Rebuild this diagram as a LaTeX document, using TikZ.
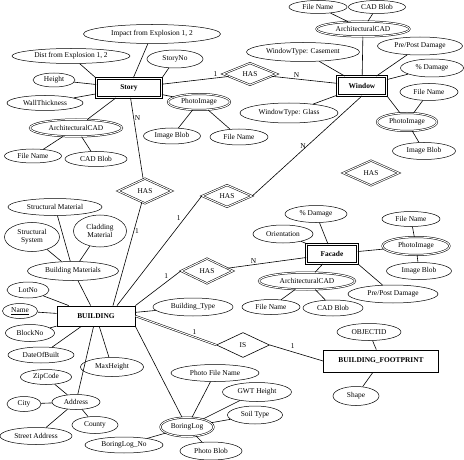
\documentclass[tikz,border=0pt]{standalone}
\usepackage{fontspec}
\setmainfont{Liberation Serif}
\usetikzlibrary{shapes.geometric}
\tikzset{
  entity/.style={
    rectangle, draw=black, line width=0.8pt, inner sep=0pt,
    font=\fontsize{7.4}{8}\selectfont\bfseries
  },
  wentity/.style={entity, double, double distance=1.4pt},
  attr/.style={
    ellipse, draw=black, line width=0.5pt, inner sep=0pt,
    align=center, font=\fontsize{7.4}{7.8}\selectfont
  },
  mattr/.style={attr, double, double distance=1pt},
  rel/.style={
    diamond, draw=black, line width=0.5pt, aspect=2, inner sep=0pt,
    double, double distance=1pt,
    font=\fontsize{7.4}{8}\selectfont
  },
  isrel/.style={rel, double=none, line width=0.6pt},
  sz/.style 2 args={minimum width=#1pt, minimum height=#2pt},
  ln/.style  = {line width=0.6pt},
  dln/.style = {line width=0.5pt, double, double distance=1pt},
  lbl/.style = {font=\fontsize{7.4}{8}\selectfont, inner sep=1pt},
}

\begin{document}
\begin{tikzpicture}[x=1pt, y=-1pt]
\useasboundingbox (0,0) rectangle (464,460);

%% ── Story and its attributes ───────────────────────────────────────────────
\node[wentity, sz={65}{19}]  (story)    at (129, 88) {Story};
\node[attr, sz={137}{19}]    (impact)   at (152, 34) {Impact from Explosion 1, 2};
\node[attr, sz={118}{15}]    (dist)     at ( 71, 56) {Dist from Explosion 1, 2};
\node[attr, sz={56}{18}]     (storyno)  at (175, 59) {StoryNo};
\node[attr, sz={42}{14}]     (height)   at ( 54, 80) {Height};
\node[attr, sz={76}{15}]     (wall)     at ( 45,103) {WallThickness};
\node[mattr, sz={92}{17}]    (scad)     at ( 76,128) {ArchitecturalCAD};
\node[attr, sz={57}{14}]     (scadfile) at ( 33,156) {File Name};
\node[attr, sz={62}{15}]     (scadblob) at ( 96,159) {CAD Blob};
\node[mattr, sz={62}{16}]    (sphoto)   at (199,102) {PhotoImage};
\node[attr, sz={57}{16}]     (sphblob)  at (172,136) {Image Blob};
\node[attr, sz={58}{16}]     (sphfile)  at (239,137) {File Name};

%% ── Window and its attributes ──────────────────────────────────────────────
\node[wentity, sz={49}{19}]  (window)   at (362, 86) {Window};
\node[mattr, sz={93}{15}]    (wcad)     at (363, 29) {ArchitecturalCAD};
\node[attr, sz={58}{13}]     (wcadfile) at (318,  7) {File Name};
\node[attr, sz={57}{13}]     (wcadblob) at (377,  7) {CAD Blob};
\node[attr, sz={113}{19}]    (wcase)    at (303, 52) {WindowType: Casement};
\node[attr, sz={98}{20}]     (wglass)   at (289,113) {WindowType: Glass};
\node[attr, sz={85}{18}]     (wprepost) at (420, 46) {Pre/Post Damage};
\node[attr, sz={63}{18}]     (wdamage)  at (432, 68) {\% Damage};
\node[mattr, sz={60}{18}]    (wphoto)   at (407,122) {PhotoImage};
\node[attr, sz={58}{17}]     (wphfile)  at (429, 92) {File Name};
\node[attr, sz={63}{17}]     (wphblob)  at (424,151) {Image Blob};

%% ── Relationships ──────────────────────────────────────────────────────────
\node[rel, sz={54}{22}]      (hasw)     at (250, 74) {HAS};
\node[rel, sz={54}{25}]      (hass)     at (145,191) {HAS};
\node[rel, sz={50}{22}]      (hasb)     at (227,196) {HAS};
\node[rel, sz={52}{25}]      (hasf)     at (207,271) {HAS};
\node[rel, sz={56}{25}]      (hasx)     at (371,173) {HAS};
\node[isrel, sz={53}{25}]    (isr)      at (243,345) {IS};

%% ── Facade and its attributes ──────────────────────────────────────────────
\node[wentity, sz={51}{19}]  (facade)   at (332,254) {Facade};
\node[attr, sz={62}{17}]     (fdamage)  at (316,214) {\% Damage};
\node[attr, sz={60}{18}]     (forient)  at (283,234) {Orientation};
\node[mattr, sz={67}{18}]    (fphoto)   at (416,246) {PhotoImage};
\node[attr, sz={58}{15}]     (fphfile)  at (411,219) {File Name};
\node[attr, sz={65}{17}]     (fphblob)  at (419,271) {Image Blob};
\node[mattr, sz={96}{17}]    (fcad)     at (307,281) {ArchitecturalCAD};
\node[attr, sz={58}{15}]     (fcadfile) at (271,307) {File Name};
\node[attr, sz={60}{16}]     (fcadblob) at (333,308) {CAD Blob};
\node[attr, sz={90}{18}]     (fprepost) at (393,294) {Pre/Post Damage};

%% ── BUILDING and its attributes ────────────────────────────────────────────
\node[entity, sz={78}{20}]   (building) at ( 96,316) {BUILDING};
\node[attr, sz={91}{19}]     (bmat)     at ( 73,271) {Building Materials};
\node[attr, sz={94}{17}]     (smat)     at ( 55,207) {Structural Material};
\node[attr, sz={55}{29}]     (ssys)     at ( 32,237) {Structural\\System};
\node[attr, sz={53}{32}]     (clad)     at (100,231) {Cladding\\Material};
\node[attr, sz={42}{16}]     (lotno)    at ( 28,290) {LotNo};
\node[attr, sz={35}{15}]     (name)     at ( 20,311) {\underline{Name}};
\node[attr, sz={49}{17}]     (blockno)  at ( 30,333) {BlockNo};
\node[attr, sz={66}{16}]     (dateb)    at ( 41,355) {DateOfBuilt};
\node[attr, sz={51}{15}]     (zip)      at ( 46,377) {ZipCode};
\node[attr, sz={34}{15}]     (city)     at ( 24,404) {City};
\node[attr, sz={48}{15}]     (address)  at ( 76,402) {Address};
\node[attr, sz={46}{17}]     (county)   at ( 95,425) {County};
\node[attr, sz={72}{17}]     (street)   at ( 36,436) {Street Address};
\node[attr, sz={63}{19}]     (maxh)     at (112,367) {MaxHeight};
\node[attr, sz={80}{18}]     (btype)    at (193,307) {Building\_Type};

%% ── BoringLog ──────────────────────────────────────────────────────────────
\node[mattr, sz={53}{19}]    (boring)   at (187,427) {BoringLog};
\node[attr, sz={78}{16}]     (boringno) at (124,445) {BoringLog\_No};
\node[attr, sz={88}{17}]     (photofile) at (215,373) {Photo File Name};
\node[attr, sz={69}{19}]     (gwt)      at (257,392) {GWT Height};
\node[attr, sz={55}{18}]     (soil)     at (255,415) {Soil Type};
\node[attr, sz={62}{18}]     (photoblob) at (211,451) {Photo Blob};

%% ── BUILDING_FOOTPRINT ─────────────────────────────────────────────────────
\node[entity, sz={115}{22}]  (footprint) at (381,361) {BUILDING\_FOOTPRINT};
\node[attr, sz={64}{17}]     (objid)    at (369,332) {OBJECTID};
\node[attr, sz={46}{19}]     (shape)    at (356,396) {Shape};

%% ── Attribute links ────────────────────────────────────────────────────────
\draw[ln] (story) -- (impact);
\draw[ln] (story.north west) -- (dist);
\draw[ln] (story) -- (height);
\draw[ln] (story) -- (wall);
\draw[ln] (story) -- (scad);
\draw[ln] (story.north east) -- (storyno);
\draw[ln] (story) -- (sphoto);
\draw[ln] (scad) -- (scadfile);
\draw[ln] (scad) -- (scadblob);
\draw[ln] (sphoto) -- (sphblob);
\draw[ln] (sphoto) -- (sphfile);

\draw[ln] (window) -- (wcad);
\draw[ln] (wcad) -- (wcadfile);
\draw[ln] (wcad) -- (wcadblob);
\draw[ln] (window) -- (wcase);
\draw[ln] (window) -- (wglass);
\draw[ln] (window) -- (wprepost);
\draw[ln] (window) -- (wdamage);
\draw[ln] (window.south east) -- (wphoto);
\draw[ln] (wphoto) -- (wphfile);
\draw[ln] (wphoto) -- (wphblob);

\draw[ln] (facade) -- (fdamage);
\draw[ln] (facade) -- (forient);
\draw[ln] (facade) -- (fphoto);
\draw[ln] (fphoto) -- (fphfile);
\draw[ln] (fphoto) -- (fphblob);
\draw[ln] (facade) -- (fcad);
\draw[ln] (fcad) -- (fcadfile);
\draw[ln] (fcad) -- (fcadblob);
\draw[ln] (facade.south east) -- (fprepost);

\draw[ln] (building) -- (bmat);
\draw[ln] (bmat) -- (smat);
\draw[ln] (bmat) -- (ssys);
\draw[ln] (bmat) -- (clad);
\draw[ln] (building) -- (lotno);
\draw[ln] (building) -- (name);
\draw[ln] (building) -- (blockno);
\draw[ln] (building) -- (dateb);
\draw[ln] (building) -- (address);
\draw[ln] (address) -- (zip);
\draw[ln] (address) -- (city);
\draw[ln] (address) -- (county);
\draw[ln] (address) -- (street);
\draw[ln] (building) -- (maxh);
\draw[ln] (building) -- (btype);
\draw[ln] (building.south east) -- (boring);
\draw[ln] (boring) -- (boringno);
\draw[ln] (boring) -- (photofile);
\draw[ln] (boring) -- (gwt);
\draw[ln] (boring) -- (soil);
\draw[ln] (boring) -- (photoblob);

\draw[ln] (footprint) -- (objid);
\draw[ln] (footprint) -- (shape);

%% ── Relationship links with cardinalities ──────────────────────────────────
\draw[ln] (story) -- node[lbl, pos=0.8, above]{1} (hasw);
\draw[ln] (hasw) -- node[lbl, pos=0.38, above]{N} (window);
\draw[ln] (story) -- node[lbl, pos=0.25, right]{N} (hass);
\draw[ln] (hass) -- node[lbl, pos=0.28, right]{1} ([xshift=17pt]building.north);
\draw[ln] (window.south) -- node[lbl, pos=0.5, left]{N} (hasb.east);
\draw[ln] (hasb.west) -- node[lbl, pos=0.2, left=3pt]{1} ([xshift=21pt]building.north);
\draw[ln] (building.north east) -- node[lbl, pos=0.75, above left]{1} (hasf.west);
\draw[ln] (hasf) -- node[lbl, pos=0.33, above]{N} (facade);
\draw[dln] (building.east) -- node[lbl, pos=0.73, above=1pt]{1} (isr.west);
\draw[ln] (isr.east) -- node[lbl, pos=0.43, above=2pt]{1} (footprint.west);

\end{tikzpicture}
\end{document}
